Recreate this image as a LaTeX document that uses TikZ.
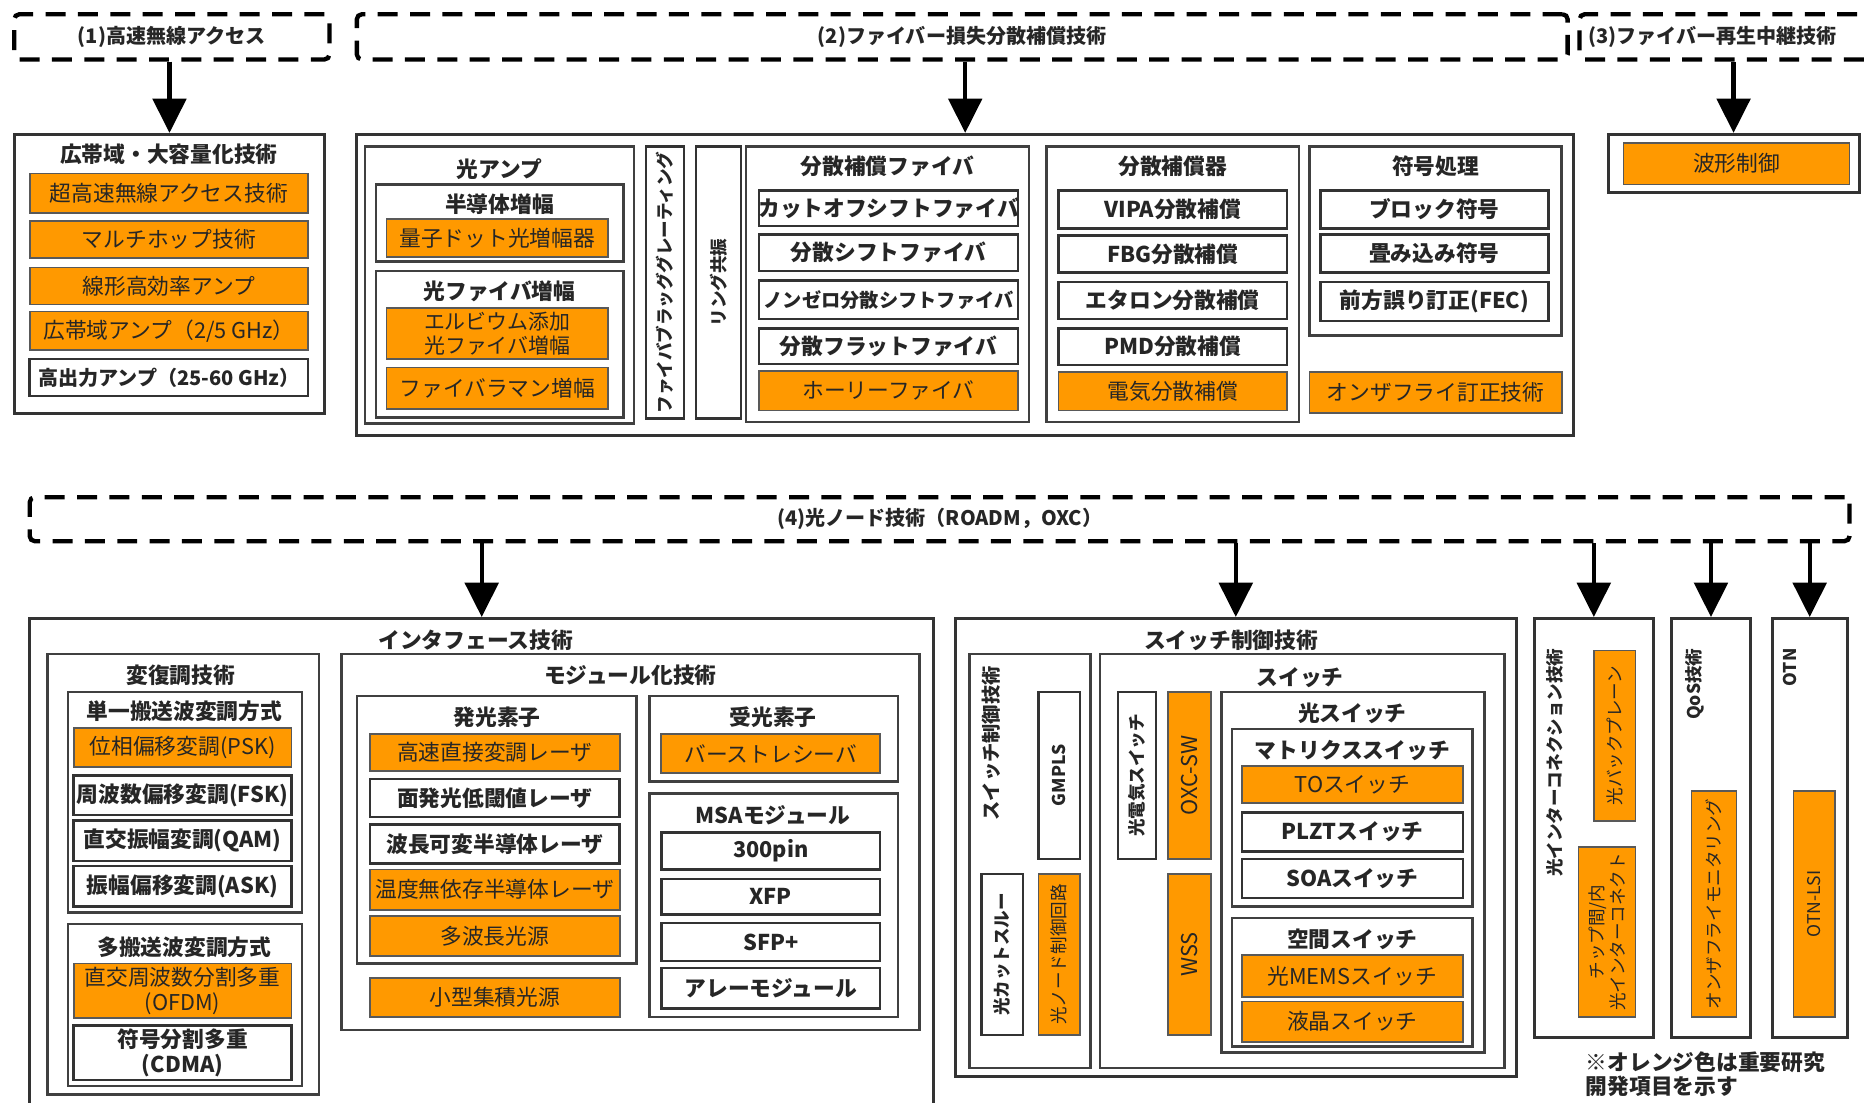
\documentclass[tikz,border=0pt]{standalone}
\usepackage{fontspec}
\setmainfont{Noto Sans CJK JP}
\usepackage{xcolor}
\usetikzlibrary{arrows.meta,fit}
\definecolor{imporange}{HTML}{FF9900}

\begin{document}
\begin{tikzpicture}[
  x=0.025cm, y=0.025cm,
  hdrbox/.style={draw=black, line width=2.6pt, dash pattern=on 0.42cm off 0.26cm,
    rounded corners=3pt, inner sep=0pt},
  outerbox/.style={draw=black!80, line width=1.8pt, inner sep=0pt},
  grpbox/.style={draw=black!75, line width=1.5pt, inner sep=0pt},
  itembox/.style={draw=black!80, line width=1.5pt, fill=white, inner sep=0pt},
  impbox/.style={draw=black!65, line width=1pt, fill=imporange, inner sep=0pt},
  boxtext/.style={inner sep=0pt, font=\fontsize{13}{15}\selectfont, text=black!85, align=center},
  itxt/.style={label={[boxtext]center:{#1}}},
  btxt/.style={label={[boxtext, font=\fontsize{13}{15}\selectfont\bfseries]center:{#1}}},
  htxt/.style={label={[boxtext, font=\fontsize{12}{14}\selectfont\bfseries]center:{#1}}},
  grptitle/.style={inner sep=0pt, font=\fontsize{13}{15}\selectfont\bfseries, text=black!85},
  vtext/.style={rotate=90, inner sep=0pt, font=\fontsize{10.5}{12.5}\selectfont, text=black!85, align=center},
  vtitle/.style={vtext, font=\fontsize{10.5}{12.5}\selectfont\bfseries},
  arrow/.style={-{Triangle[width=0.7cm,length=0.72cm]}, line width=2.6pt}
]
\fill[white] (0,0) rectangle (1568,-927);
\useasboundingbox (0,0) rectangle (1568,-927);

% headers
\node[hdrbox, fit={(12,-12) (277,-50)}, htxt={(1)高速無線アクセス}] (h1) {};
\node[hdrbox, fit={(300,-12) (1318,-50)}, htxt={(2)ファイバー損失分散補償技術}] (h2) {};
\node[hdrbox, fit={(1328,-12) (1620,-50)}] (h3) {};
\node[grptitle, font=\fontsize{12}{14}\selectfont\bfseries, anchor=west] (h3-t) at (1335,-31) {(3)ファイバー再生中継技術};
\node[hdrbox, fit={(25,-418) (1555,-455)}, htxt={(4)光ノード技術（ROADM，OXC）}] (h4) {};

% (1)
\node[outerbox, fit={(12,-113) (273,-348)}] (A) {};
\node[grptitle] (A-t) at (142,-130) {広帯域・大容量化技術};
\node[impbox, fit={(25,-146) (259,-179)}, itxt={超高速無線アクセス技術}] (a1) {};
\node[impbox, fit={(25,-186) (259,-217)}, itxt={マルチホップ技術}] (a2) {};
\node[impbox, fit={(25,-225) (259,-256)}, itxt={線形高効率アンプ}] (a3) {};
\node[impbox, fit={(25,-262) (259,-294)}, itxt={広帯域アンプ（2/5 GHz）}] (a4) {};
\node[itembox, fit={(25,-302) (259,-333)},
  label={[boxtext, font=\fontsize{12}{14}\selectfont\bfseries]center:高出力アンプ（25-60 GHz）}] (a5) {};

% (2)
\node[outerbox, fit={(300,-113) (1323,-366)}] (B) {};
\node[grpbox, fit={(307,-123) (533,-356)}] (amp) {};
\node[grptitle] (amp-t) at (420,-142) {光アンプ};
\node[grpbox, fit={(316,-155) (524,-220)}] (soa) {};
\node[grptitle] (soa-t) at (420,-172) {半導体増幅};
\node[impbox, fit={(325,-184) (511,-216)}, itxt={量子ドット光増幅器}] (qd) {};
\node[grpbox, fit={(316,-228) (524,-351)}] (ofa) {};
\node[grptitle] (ofa-t) at (420,-245) {光ファイバ増幅};
\node[impbox, fit={(325,-259) (511,-302)},
  label={[boxtext, font=\fontsize{12.5}{14.5}\selectfont]center:{エルビウム添加\\光ファイバ増幅}}] (edfa) {};
\node[impbox, fit={(325,-309) (511,-344)}, itxt={ファイバラマン増幅}] (raman) {};

\node[itembox, fit={(543,-123) (575,-352)}] (fbg) {};
\node[vtitle] (fbg-t) at (fbg) {ファイバブラッググレーティング};
\node[itembox, fit={(585,-123) (623,-352)}] (ring) {};
\node[vtitle] (ring-t) at (ring) {リング共振};

\node[grpbox, fit={(627,-123) (865,-355)}] (dcf) {};
\node[grptitle] (dcf-t) at (746,-140) {分散補償ファイバ};
\node[itembox, fit={(638,-160) (856,-190)}, btxt={カットオフシフトファイバ}] (cof) {};
\node[itembox, fit={(638,-197) (856,-228)}, btxt={分散シフトファイバ}] (dsf) {};
\node[itembox, fit={(638,-236) (856,-268)},
  label={[boxtext, font=\fontsize{11.5}{13}\selectfont\bfseries]center:ノンゼロ分散シフトファイバ}] (nzd) {};
\node[itembox, fit={(638,-276) (856,-306)}, btxt={分散フラットファイバ}] (dff) {};
\node[impbox, fit={(638,-312) (856,-345)}, itxt={ホーリーファイバ}] (holey) {};

\node[grpbox, fit={(880,-123) (1092,-355)}] (dc) {};
\node[grptitle] (dc-t) at (986,-140) {分散補償器};
\node[itembox, fit={(890,-160) (1082,-192)}, btxt={VIPA分散補償}] (vipa) {};
\node[itembox, fit={(890,-198) (1082,-229)}, btxt={FBG分散補償}] (fbgc) {};
\node[itembox, fit={(890,-237) (1082,-268)}, btxt={エタロン分散補償}] (etalon) {};
\node[itembox, fit={(890,-276) (1082,-307)}, btxt={PMD分散補償}] (pmd) {};
\node[impbox, fit={(890,-313) (1082,-345)}, itxt={電気分散補償}] (edc) {};

\node[grpbox, fit={(1101,-123) (1313,-282)}] (code) {};
\node[grptitle] (code-t) at (1207,-140) {符号処理};
\node[itembox, fit={(1110,-160) (1302,-192)}, btxt={ブロック符号}] (blk) {};
\node[itembox, fit={(1110,-197) (1302,-229)}, btxt={畳み込み符号}] (conv) {};
\node[itembox, fit={(1110,-237) (1302,-270)}, btxt={前方誤り訂正(FEC)}] (fec) {};
\node[impbox, fit={(1101,-313) (1313,-347)}, itxt={オンザフライ訂正技術}] (otf) {};

% (3)
\node[outerbox, fit={(1352,-113) (1563,-162)}] (C) {};
\node[impbox, fit={(1365,-120) (1555,-155)}, itxt={波形制御}] (wave) {};

% (4) interface
\node[outerbox, fit={(25,-520) (785,-945)}] (D) {};
\node[grptitle] (D-t) at (400,-538) {インタフェース技術};
\node[grpbox, fit={(40,-550) (268,-920)}] (mod) {};
\node[grptitle] (mod-t) at (152,-568) {変復調技術};
\node[grpbox, fit={(57,-582) (254,-767)}] (sc) {};
\node[grptitle] (sc-t) at (155,-598) {単一搬送波変調方式};
\node[impbox, fit={(62,-612) (245,-645)}, itxt={位相偏移変調(PSK)}] (psk) {};
\node[itembox, fit={(62,-652) (245,-685)}, btxt={周波数偏移変調(FSK)}] (fsk) {};
\node[itembox, fit={(62,-690) (245,-724)}, btxt={直交振幅変調(QAM)}] (qam) {};
\node[itembox, fit={(62,-728) (245,-762)}, btxt={振幅偏移変調(ASK)}] (ask) {};
\node[grpbox, fit={(57,-777) (254,-913)}] (mc) {};
\node[grptitle] (mc-t) at (155,-796) {多搬送波変調方式};
\node[impbox, fit={(62,-810) (245,-856)}, itxt={直交周波数分割多重\\(OFDM)}] (ofdm) {};
\node[itembox, fit={(62,-862) (245,-908)}, btxt={符号分割多重\\(CDMA)}] (cdma) {};

\node[grpbox, fit={(287,-550) (773,-866)}] (modl) {};
\node[grptitle] (modl-t) at (530,-568) {モジュール化技術};
\node[grpbox, fit={(300,-585) (535,-810)}] (emit) {};
\node[grptitle] (emit-t) at (418,-603) {発光素子};
\node[impbox, fit={(311,-617) (521,-648)}, itxt={高速直接変調レーザ}] (dml) {};
\node[itembox, fit={(311,-655) (521,-687)}, btxt={面発光低閾値レーザ}] (vcsel) {};
\node[itembox, fit={(311,-693) (521,-726)}, btxt={波長可変半導体レーザ}] (tun) {};
\node[impbox, fit={(311,-731) (521,-765)}, itxt={温度無依存半導体レーザ}] (uncool) {};
\node[impbox, fit={(311,-770) (521,-804)}, itxt={多波長光源}] (mwl) {};
\node[impbox, fit={(311,-822) (521,-855)}, itxt={小型集積光源}] (pic) {};
\node[grpbox, fit={(546,-585) (755,-657)}] (rcv) {};
\node[grptitle] (rcv-t) at (650,-603) {受光素子};
\node[impbox, fit={(556,-617) (740,-650)}, itxt={バーストレシーバ}] (burst) {};
\node[grpbox, fit={(546,-667) (755,-855)}] (msa) {};
\node[grptitle] (msa-t) at (650,-685) {MSAモジュール};
\node[itembox, fit={(556,-700) (740,-731)}, btxt={300pin}] (p300) {};
\node[itembox, fit={(556,-739) (740,-769)}, btxt={XFP}] (xfp) {};
\node[itembox, fit={(556,-776) (740,-808)}, btxt={SFP+}] (sfp) {};
\node[itembox, fit={(556,-814) (740,-848)}, btxt={アレーモジュール}] (arrmod) {};

% (4) switch control
\node[outerbox, fit={(803,-520) (1275,-905)}] (E) {};
\node[grptitle] (E-t) at (1035,-538) {スイッチ制御技術};
\node[grpbox, fit={(815,-550) (917,-898)}] (ctl) {};
\node[vtitle, font=\fontsize{11.5}{13}\selectfont\bfseries, anchor=east] (ctl-t) at (833,-560) {スイッチ制御技術};
\node[itembox, fit={(873,-582) (908,-722)}] (gmpls) {};
\node[vtitle] (gmpls-t) at (gmpls) {GMPLS};
\node[itembox, fit={(825,-735) (860,-870)}] (cut) {};
\node[vtitle] (cut-t) at (cut) {光カットスルー};
\node[impbox, fit={(873,-735) (908,-870)}] (ncc) {};
\node[vtext] (ncc-t) at (ncc) {光ノード制御回路};
\node[grpbox, fit={(925,-550) (1265,-898)}] (sw) {};
\node[grptitle] (sw-t) at (1093,-570) {スイッチ};
\node[itembox, fit={(940,-582) (972,-722)}] (oes) {};
\node[vtitle] (oes-t) at (oes) {光電気スイッチ};
\node[impbox, fit={(982,-582) (1018,-722)}] (oxc) {};
\node[vtext, font=\fontsize{13}{15}\selectfont] (oxc-t) at (oxc) {OXC-SW};
\node[impbox, fit={(982,-735) (1018,-870)}] (wss) {};
\node[vtext, font=\fontsize{13}{15}\selectfont] (wss-t) at (wss) {WSS};
\node[grpbox, fit={(1027,-582) (1248,-885)}] (osw) {};
\node[grptitle] (osw-t) at (1137,-600) {光スイッチ};
\node[grpbox, fit={(1036,-613) (1238,-762)}] (mtx) {};
\node[grptitle] (mtx-t) at (1137,-631) {マトリクススイッチ};
\node[impbox, fit={(1044,-644) (1230,-675)}, itxt={TOスイッチ}] (tosw) {};
\node[itembox, fit={(1044,-683) (1230,-716)}, btxt={PLZTスイッチ}] (plzt) {};
\node[itembox, fit={(1044,-722) (1230,-755)}, btxt={SOAスイッチ}] (soasw) {};
\node[grpbox, fit={(1036,-772) (1238,-880)}] (spc) {};
\node[grptitle] (spc-t) at (1137,-790) {空間スイッチ};
\node[impbox, fit={(1044,-803) (1230,-838)}, itxt={光MEMSスイッチ}] (mems) {};
\node[impbox, fit={(1044,-842) (1230,-876)}, itxt={液晶スイッチ}] (lcsw) {};

% (4) interconnect, QoS, OTN
\node[outerbox, fit={(1290,-520) (1390,-872)}] (F) {};
\node[vtitle, anchor=east] (F-t) at (1307,-545) {光インターコネクション技術};
\node[impbox, fit={(1340,-547) (1375,-690)}] (bp) {};
\node[vtext] (bp-t) at (bp) {光バックプレーン};
\node[impbox, fit={(1327,-712) (1375,-855)}] (chip) {};
\node[vtext] (chip-t) at (chip) {チップ間/内\\光インターコネクト};
\node[outerbox, fit={(1405,-520) (1472,-872)}] (G) {};
\node[vtitle, anchor=east] (G-t) at (1425,-545) {QoS技術};
\node[impbox, fit={(1422,-665) (1460,-855)}] (mon) {};
\node[vtext] (mon-t) at (mon) {オンザフライモニタリング};
\node[outerbox, fit={(1490,-520) (1553,-872)}] (H) {};
\node[vtitle, anchor=east] (H-t) at (1505,-545) {OTN};
\node[impbox, fit={(1508,-665) (1543,-855)}] (otn) {};
\node[vtext] (otn-t) at (otn) {OTN-LSI};

\node[grptitle, anchor=north west, align=left, font=\fontsize{13}{14.5}\selectfont\bfseries] (note) at (1333,-884) {※オレンジ色は重要研究\\開発項目を示す};

\draw[arrow] (h1.south -| A.north) -- (A.north);
\draw[arrow] (h2.south -| B.north) -- (B.north);
\draw[arrow] (h3.south -| C.north) -- (C.north);
\draw[arrow] (h4.south -| D.north) -- (D.north);
\draw[arrow] (h4.south -| E.north) -- (E.north);
\draw[arrow] (h4.south -| F.north) -- (F.north);
\draw[arrow] (h4.south -| G.north) -- (G.north);
\draw[arrow] (h4.south -| H.north) -- (H.north);
\end{tikzpicture}
\end{document}
